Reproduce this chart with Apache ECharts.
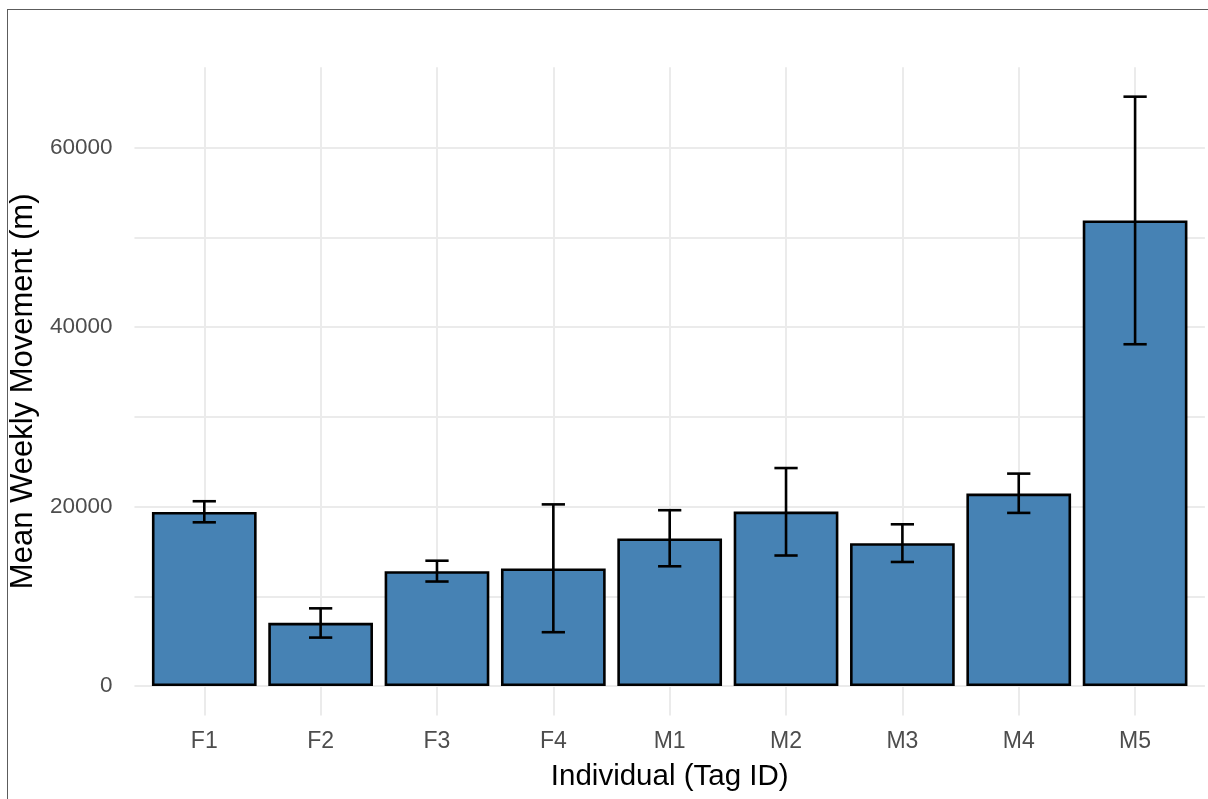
<!DOCTYPE html>
<html>
<head>
<meta charset="utf-8">
<script src="https://cdn.jsdelivr.net/npm/echarts@6/dist/echarts.min.js"></script>
<style>
  html, body { margin: 0; padding: 0; background: #fff; overflow: hidden; }
  #chart { position: absolute; left: 0; top: 0; width: 1208px; height: 799px; }
  #frame { position: absolute; left: 7px; top: 9px; width: 1400px; height: 1000px;
           border: 1.5px solid #5c5c5c; pointer-events: none; }
</style>
</head>
<body>
<div id="chart"></div>
<div id="frame"></div>
<script>
const categories = ['F1', 'F2', 'F3', 'F4', 'M1', 'M2', 'M3', 'M4', 'M5'];
const means = [19400, 7050, 12800, 13100, 16450, 19450, 15920, 21450, 51900];
const lower = [18250, 5400, 11650, 6000, 13350, 14550, 13830, 19300, 38100];
const upper = [20600, 8660, 13970, 20250, 19600, 24300, 18030, 23680, 65700];
const yTickLabels = [0, 20000, 40000, 60000];
const yGridValues = [0, 10000, 20000, 30000, 40000, 50000, 60000];

const n = categories.length;
const xs = categories.map((c, i) => i + 1);
const yMaxData = Math.max(...upper);
const yMinData = 0;
const span = yMaxData - yMinData;
const yMin = yMinData - 0.05 * span;
const yMax = yMaxData + 0.05 * span;

const gridColor = '#ebebeb';
const font = "'Liberation Sans', Arial, sans-serif";

const markLineData = []
  .concat(yGridValues.map(v => ({ yAxis: v })))
  .concat(xs.map(v => ({ xAxis: v })));

const chart = echarts.init(document.getElementById('chart'), null, { renderer: 'canvas' });
chart.setOption({
  animation: false,
  backgroundColor: '#ffffff',
  grid: { left: 132.8, right: 3.1, top: 67.2, bottom: 83.5, containLabel: false },
  xAxis: {
    type: 'value',
    min: 0.4,
    max: n + 0.6,
    axisLine: { show: false },
    axisTick: { show: false },
    splitLine: { show: false },
    axisLabel: {
      customValues: xs,
      formatter: v => categories[Math.round(v) - 1] || '',
      color: '#4d4d4d',
      fontFamily: font,
      fontSize: 23,
      margin: 15
    },
    name: 'Individual (Tag ID)',
    nameLocation: 'middle',
    nameGap: 46,
    nameTextStyle: { color: '#000', fontFamily: font, fontSize: 29.5 }
  },
  yAxis: {
    type: 'value',
    min: yMin,
    max: yMax,
    axisLine: { show: false },
    axisTick: { show: false },
    splitLine: { show: false },
    axisLabel: {
      customValues: yTickLabels,
      formatter: v => String(v),
      color: '#4d4d4d',
      fontFamily: font,
      fontSize: 22.5,
      margin: 22
    },
    name: 'Mean Weekly Movement (m)',
    nameLocation: 'middle',
    nameGap: 95,
    nameTextStyle: { color: '#000', fontFamily: font, fontSize: 31 }
  },
  series: [
    {
      type: 'bar',
      z: 2,
      data: xs.map((x, i) => [x, means[i]]),
      barWidth: '90%',
      itemStyle: { color: '#4682b4', borderColor: '#000', borderWidth: 2.6 },
      markLine: {
        z: 1,
        silent: true,
        symbol: 'none',
        label: { show: false },
        lineStyle: { color: gridColor, width: 2, type: 'solid' },
        emphasis: { disabled: true },
        data: markLineData
      }
    },
    {
      type: 'custom',
      z: 3,
      data: xs.map((x, i) => [x, lower[i], upper[i]]),
      encode: { x: 0, y: [1, 2] },
      renderItem: function (params, api) {
        const x = api.value(0);
        const lo = api.value(1);
        const hi = api.value(2);
        const pLo = api.coord([x, lo]);
        const pHi = api.coord([x, hi]);
        const half = api.size([0.1, 0])[0];
        const style = { stroke: '#000', lineWidth: 2.6, fill: null };
        return {
          type: 'group',
          children: [
            { type: 'line', shape: { x1: pLo[0], y1: pLo[1], x2: pHi[0], y2: pHi[1] }, style },
            { type: 'line', shape: { x1: pHi[0] - half, y1: pHi[1], x2: pHi[0] + half, y2: pHi[1] }, style },
            { type: 'line', shape: { x1: pLo[0] - half, y1: pLo[1], x2: pLo[0] + half, y2: pLo[1] }, style }
          ]
        };
      }
    }
  ]
});
</script>
</body>
</html>
